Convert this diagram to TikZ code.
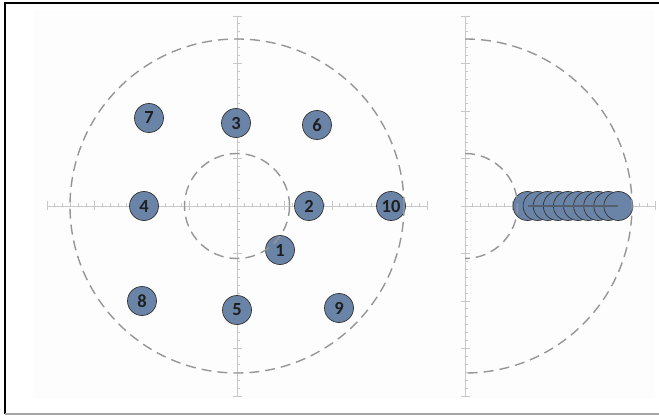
\documentclass[tikz,border=0pt]{standalone}
\usepackage{fontspec}
\setmainfont{Carlito}
\definecolor{ballblue}{RGB}{106,132,168}
\definecolor{ringgray}{RGB}{150,150,150}
\definecolor{axisgray}{RGB}{200,200,200}
\definecolor{centregray}{RGB}{85,95,110}
\tikzset{
  axisline/.style={axisgray,line width=0.9pt},
  ring/.style={ringgray,line width=1.4pt,dash pattern=on 10pt off 6pt},
  ball/.style={circle,draw=black!80,fill=ballblue,line width=0.7pt,
    minimum size=29pt,inner sep=0pt,text=black!88,
    font=\bfseries\fontsize{18.5}{18.5}\selectfont}
}
\begin{document}
\begin{tikzpicture}
    [x=1pt,y=-1pt]
    \useasboundingbox (0,0) rectangle (659,417);
    %frame
    \fill[black!0.7] (33,10) rectangle (655,399);
    \draw[black,line width=1.6pt] (5,414)--(5,3)--(662,3);
    \draw[black!35,line width=1.2pt] (5,414)--(662,414);
    %axes left
    \draw[axisline] (47,206)--(427,206);
    \draw[axisline] (237,16)--(237,396);
    \foreach \i in {-24,...,24}{
      \draw[axisline] (237+\i*7.917,206)--(237+\i*7.917,203);
      \draw[axisline] (237,206+\i*7.917)--(240,206+\i*7.917);
    }
    \foreach \i in {-4,...,4}{
      \draw[axisline] (237+\i*47.5,210)--(237+\i*47.5,201);
      \draw[axisline] (233,206+\i*47.5)--(242,206+\i*47.5);
    }
    %axes right
    \draw[axisline] (465,206)--(655,206);
    \draw[axisline] (465,16)--(465,396);
    \foreach \i in {0,...,24}
      \draw[axisline] (465+\i*7.917,206)--(465+\i*7.917,203);
    \foreach \i in {-24,...,24}
      \draw[axisline] (465,206+\i*7.917)--(468,206+\i*7.917);
    \foreach \i in {-4,...,4}
      \draw[axisline] (461,206+\i*47.5)--(470,206+\i*47.5);
    \foreach \i in {1,...,4}
      \draw[axisline] (465+\i*47.5,210)--(465+\i*47.5,201);
    %positions
    \node[ball] (n1) at (280,250) {1};
    \node[ball] (n2) at (309,206) {2};
    \node[ball] (n3) at (236,123) {3};
    \node[ball] (n4) at (144,206) {4};
    \node[ball] (n5) at (237,310) {5};
    \node[ball] (n6) at (317,125) {6};
    \node[ball] (n7) at (149,118) {7};
    \node[ball] (n8) at (142,301) {8};
    \node[ball] (n9) at (339,308) {9};
    \node[ball] (n10) at (391,206) {10};
    %radial positions
    \foreach \i in {1,...,10}
      \node[ball] (r\i) at (517.4+\i*10.1,206) {};
    %rings
    \draw[ring] (237,206) circle[radius=167];
    \draw[ring] (237,206) circle[radius=52.5];
    \draw[ring] (465,39) arc[start angle=-90,end angle=90,radius=167];
    \draw[ring] (465,153.5) arc[start angle=-90,end angle=90,radius=52.5];
    \draw[centregray,line width=1.2pt] (r1.center)--(r10.center);
\end{tikzpicture}
\end{document}
